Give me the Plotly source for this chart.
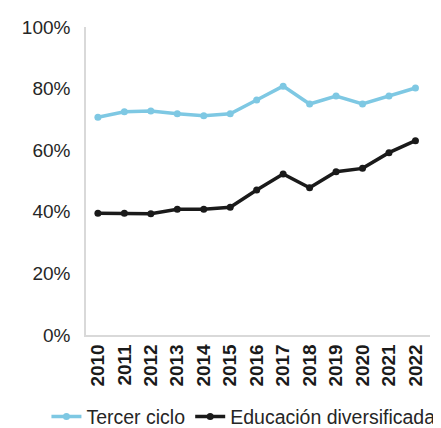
import plotly.graph_objects as go

years = ["2010","2011","2012","2013","2014","2015","2016","2017","2018","2019","2020","2021","2022"]
tercer_ciclo = [70.7, 72.5, 72.7, 71.8, 71.2, 71.8, 76.3, 80.8, 75.0, 77.6, 75.0, 77.6, 80.2]
educacion_div = [39.5, 39.5, 39.4, 40.8, 40.8, 41.5, 47.1, 52.3, 47.8, 53.0, 54.1, 59.2, 63.1]
y_ticks = [0, 20, 40, 60, 80, 100]
y_labels = ["0%", "20%", "40%", "60%", "80%", "100%"]

FONT = "Liberation Sans, Arial, sans-serif"

fig = go.Figure()
fig.add_trace(go.Scatter(x=years, y=tercer_ciclo, name="Tercer ciclo", mode="lines+markers",
                         line=dict(color="#7ec8e3", width=3.5), marker=dict(size=7, color="#7ec8e3")))
fig.add_trace(go.Scatter(x=years, y=educacion_div, name="Educación diversificada", mode="lines+markers",
                         line=dict(color="#1a1a1a", width=3.5), marker=dict(size=7, color="#1a1a1a")))

fig.update_layout(
    width=433, height=420,
    margin=dict(l=78, r=11, t=19, b=93, autoexpand=False),
    paper_bgcolor="white", plot_bgcolor="white",
    font=dict(family=FONT, color="#262626"),
    showlegend=True,
    legend=dict(orientation="h", x=-0.115, xanchor="left", y=-0.266, yanchor="middle",
                font=dict(size=19.5, family=FONT, color="#262626"), tracegroupgap=0,
                bgcolor="rgba(0,0,0,0)"),
    xaxis=dict(type="category", range=[-0.45, 12.55], showgrid=False, showline=True,
               linecolor="#d9d9d9", linewidth=1.5, ticks="", tickangle=-90,
               tickfont=dict(size=19, family=FONT, weight="bold", color="#1a1a1a")),
    yaxis=dict(range=[0, 100], tickvals=y_ticks, ticktext=y_labels, showgrid=False,
               showline=True, linecolor="#d9d9d9", linewidth=1.5, ticks="",
               zeroline=False, ticklabelstandoff=10,
               tickfont=dict(size=19, family=FONT, color="#262626")),
)

fig.write_html("out.html")
